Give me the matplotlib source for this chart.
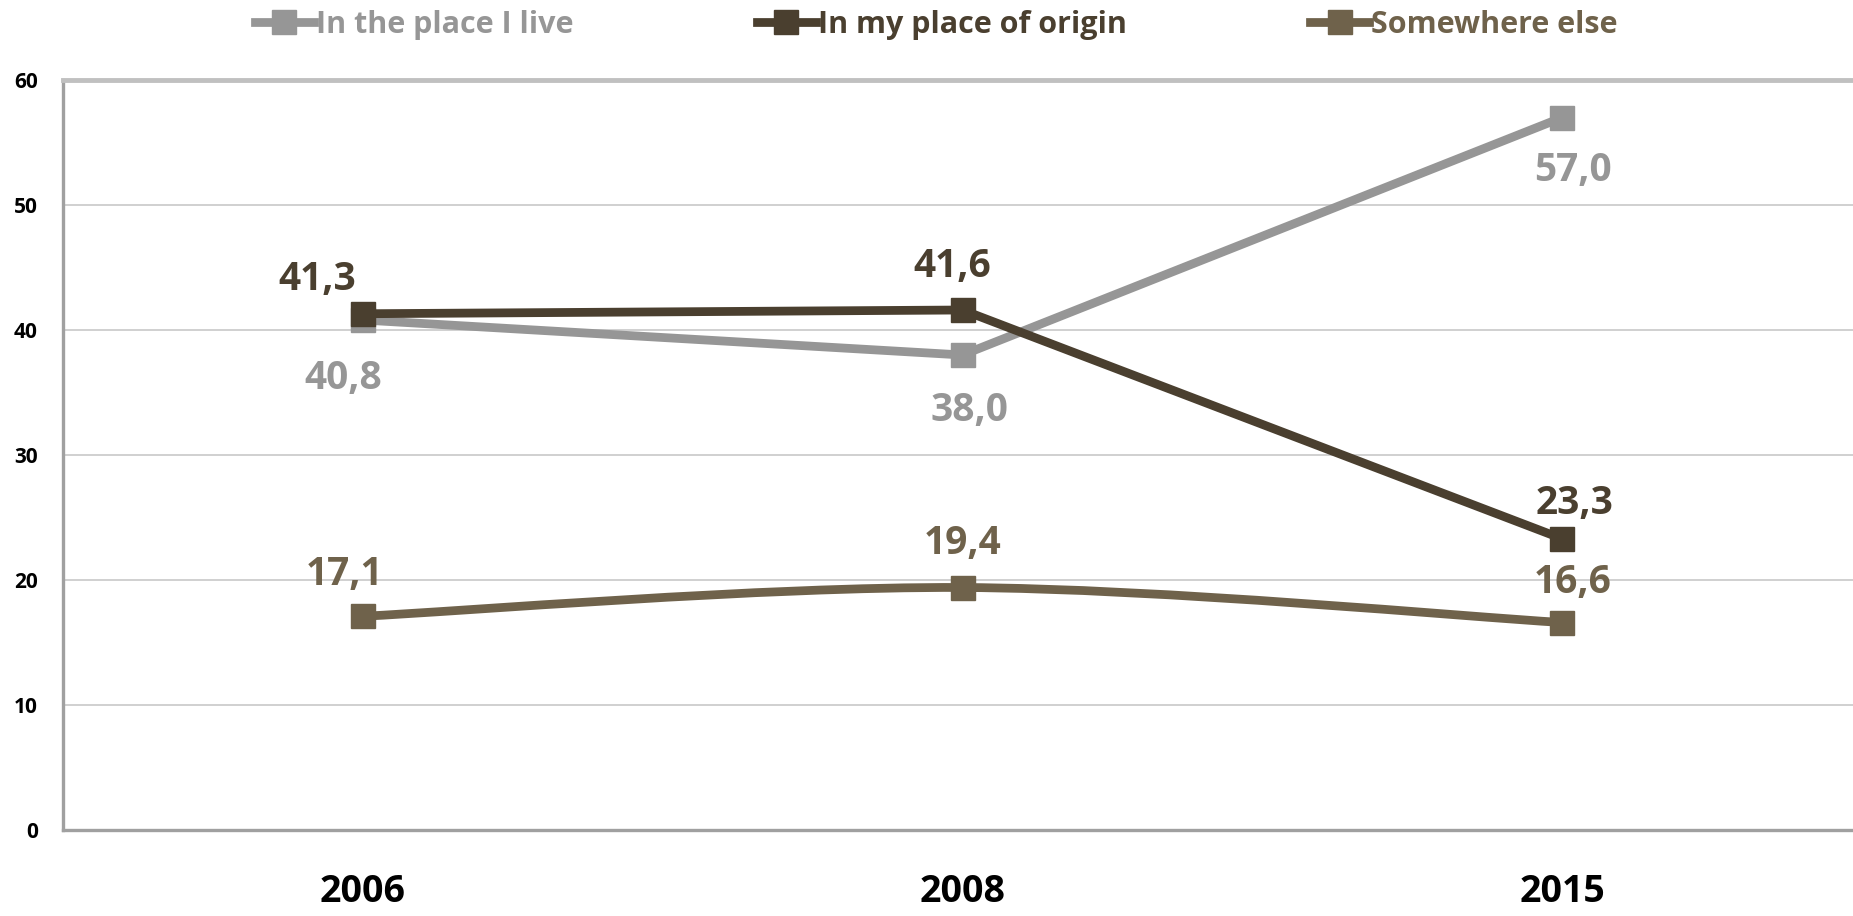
import numpy as np
import matplotlib.pyplot as plt
from matplotlib.path import Path
from matplotlib.patches import PathPatch
from matplotlib.lines import Line2D

plt.rcParams['font.family'] = ['Open Sans', 'DejaVu Sans']
plt.rcParams['font.weight'] = 'bold'

# data
years = ["2006", "2008", "2015"]
live = [40.8, 38.0, 57.0]
origin = [41.3, 41.6, 23.3]
elsewhere = [17.1, 19.4, 16.6]
names = ["In the place I live", "In my place of origin", "Somewhere else"]
colors = ["#969696", "#4a3f2f", "#6f624b"]

# value label offsets in pixels (dx, dy), dy up is positive
off_live = [(-20, -58), (7, -55), (11, -53)]
off_origin = [(-46, 34), (-10, 43), (12, 35)]
off_else = [(-18, 42), (0, 44), (10, 40)]

W, H = 1853, 916
fig = plt.figure(figsize=(W / 100, H / 100), dpi=100)
ax = fig.add_axes([63 / W, (H - 830) / H, (1862 - 63) / W, (830 - 80) / H])

x = np.arange(len(years))
lw = 6.3
ms = 17

# straight lines
ax.plot(x, live, color=colors[0], lw=lw, marker='s', ms=ms, zorder=3)
ax.plot(x, origin, color=colors[1], lw=lw, marker='s', ms=ms, zorder=4)

# smoothed line (bezier, excel style)
pts = np.column_stack([x, elsewhere]).astype(float)
ext = np.vstack([pts[0], pts, pts[-1]])
verts = [tuple(pts[0])]
codes = [Path.MOVETO]
for i in range(len(pts) - 1):
    p0, p1, p2, p3 = ext[i], ext[i + 1], ext[i + 2], ext[i + 3]
    c1 = p1 + (p2 - p0) / 6
    c2 = p2 - (p3 - p1) / 6
    verts += [tuple(c1), tuple(c2), tuple(p2)]
    codes += [Path.CURVE4] * 3
ax.add_patch(PathPatch(Path(verts, codes), fill=False, edgecolor=colors[2],
                       lw=lw, capstyle='round', zorder=3))
ax.plot(x, elsewhere, color=colors[2], ls='none', marker='s', ms=ms, zorder=3)

# value labels
for vals, offs, c in [(live, off_live, colors[0]), (origin, off_origin, colors[1]),
                      (elsewhere, off_else, colors[2])]:
    for xi, v, (dx, dy) in zip(x, vals, offs):
        ax.annotate(("%.1f" % v).replace(".", ","), (xi, v), xytext=(dx, dy),
                    textcoords='offset pixels', ha='center', va='center',
                    fontsize=28, fontweight='bold', color=c, zorder=5)

ax.set_xlim(-0.5, 2.5)
ax.set_ylim(0, 60)
ax.set_xticks(x)
ax.set_xticklabels(years, fontsize=27, fontweight='bold')
ax.set_yticks(range(0, 61, 10))
ax.tick_params(axis='y', length=0, pad=18, labelsize=15)
ax.tick_params(axis='x', length=0, pad=31)
ax.grid(axis='y', color='#c8c8c8', lw=1.2)
ax.set_axisbelow(True)

ax.spines['right'].set_visible(False)
ax.spines['left'].set_color('#a0a0a0')
ax.spines['left'].set_linewidth(2.4)
ax.spines['bottom'].set_color('#a0a0a0')
ax.spines['bottom'].set_linewidth(2.4)
ax.spines['top'].set_color('#c0c0c0')
ax.spines['top'].set_linewidth(3.5)

# legend
handles = [Line2D([], [], color=c, lw=lw, marker='s', ms=17) for c in colors]
leg = fig.legend(handles, names, loc='center', bbox_to_anchor=(936 / W, 1 - 25 / H),
                 ncol=3, frameon=False, fontsize=22, handlelength=1.95,
                 handletextpad=0.05, columnspacing=6.0)
for t, c in zip(leg.get_texts(), colors):
    t.set_color(c)
    t.set_fontweight('bold')

fig.savefig("out.png", dpi=100)
